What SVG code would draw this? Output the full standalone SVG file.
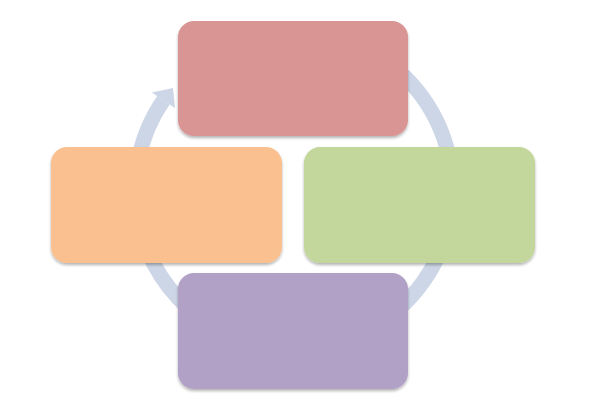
<svg xmlns="http://www.w3.org/2000/svg" width="596" height="409" viewBox="0 0 596 409">
<defs>
<style>
.ring{fill:none;stroke:#cdd6e6;stroke-width:15}
.head{fill:#cdd6e6}
.box{filter:url(#sh)}
</style>
<filter id="sh" x="-10%" y="-10%" width="120%" height="130%">
<feGaussianBlur in="SourceAlpha" stdDeviation="1.5"/>
<feOffset dy="1.5" result="b"/>
<feComponentTransfer><feFuncA type="linear" slope="0.3"/></feComponentTransfer>
<feMerge><feMergeNode/><feMergeNode in="SourceGraphic"/></feMerge>
</filter>
</defs>
<rect width="596" height="409" fill="#ffffff"/>
<g id="connectors">
<path class="ring" d="M294,31.5 A158.5,158.5 0 1 1 163.4,100.2"/>
<polygon class="head" points="151.8,92.4 173,88 175.1,108.2"/>
</g>
<g id="node-top"><rect class="box" x="178" y="21" width="230" height="115" rx="16" fill="#d99594"/></g>
<g id="node-right"><rect class="box" x="304" y="147" width="231" height="116" rx="16" fill="#c3d69b"/></g>
<g id="node-bottom"><rect class="box" x="178" y="273" width="230" height="116" rx="16" fill="#b2a1c7"/></g>
<g id="node-left"><rect class="box" x="51" y="147" width="231" height="116" rx="16" fill="#fac090"/></g>
</svg>
